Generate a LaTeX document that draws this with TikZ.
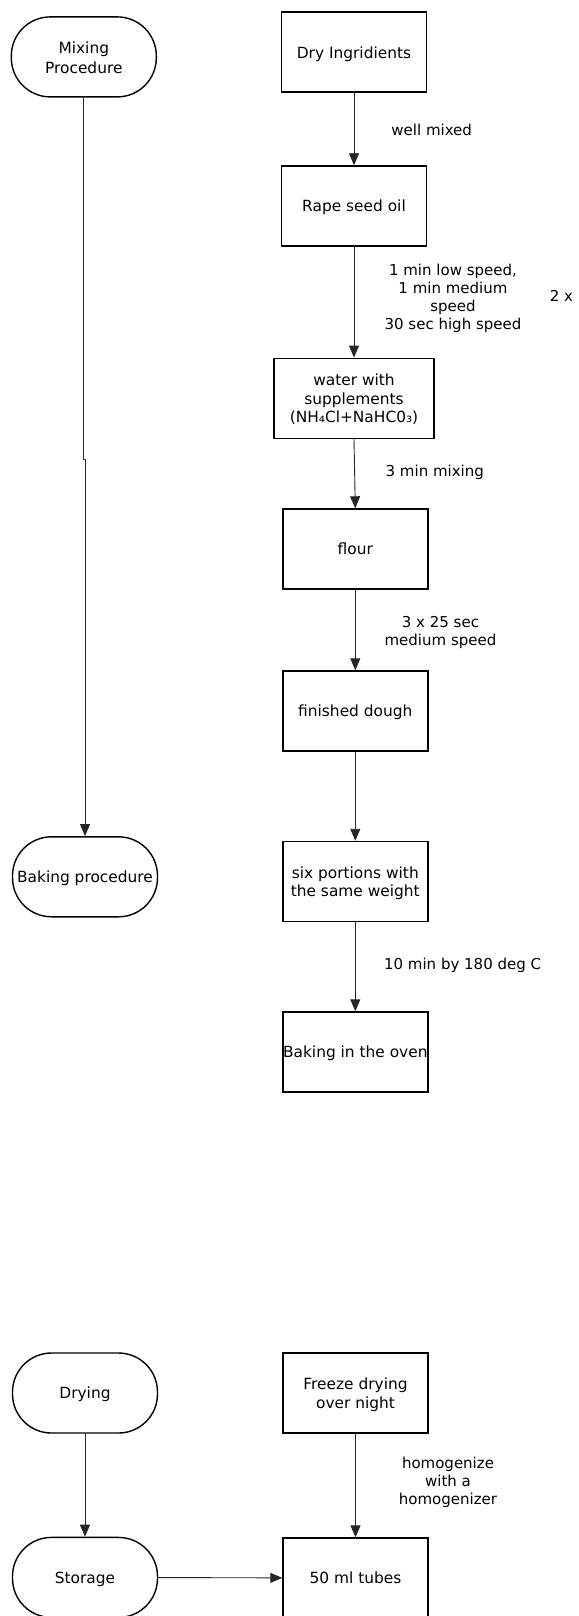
\documentclass[tikz,border=0pt]{standalone}
\usepackage{fontspec}
\setmainfont{DejaVu Sans}
\usetikzlibrary{arrows.meta}
% centred box text, set a little below the geometric centre without changing the node size
\newcommand\boxtext[1]{\raisebox{-2.2pt}[\height][\depth]{\begin{tabular}{@{}c@{}}#1\end{tabular}}}
\begin{document}
\begin{tikzpicture}[x=1pt,y=-1pt,
  box/.style={draw=black, line width=1.4pt, minimum width=145pt, minimum height=80pt,
    inner sep=0pt, align=center, font=\fontsize{15.4}{18.5}\selectfont},
  term/.style={box, rounded corners=39pt},
  lbl/.style={align=center, font=\fontsize{15}{18}\selectfont, inner sep=0pt},
  flow/.style={draw=black!85, line width=0.9pt, -{Triangle[width=10pt,length=12pt]}}]
\useasboundingbox (0,0) rectangle (578,1616);

% left column: procedure stages
\node[term, font=\fontsize{15.4}{20}\selectfont] (mix) at (83.8,56.9) {\boxtext{Mixing\\Procedure}};
\node[term] (bake) at (85,876.8) {\boxtext{Baking procedure}};
\node[term] (drying) at (85,1393) {\boxtext{Drying}};
\node[term] (storage) at (85,1577.4) {\boxtext{Storage}};

% right column: process steps
\node[box] (dry) at (354,52.2) {\boxtext{Dry Ingridients}};
\node[box] (oil) at (354,206) {\boxtext{Rape seed oil}};
\node[box, minimum width=160pt] (water) at (354,398.3) {\boxtext{water with\\supplements\\(NH₄Cl+NaHC0₃)}};
\node[box] (flour) at (355.3,549) {\boxtext{flour}};
\node[box] (dough) at (355.3,711) {\boxtext{finished dough}};
\node[box] (portions) at (355.3,881.5) {\boxtext{six portions with\\the same weight}};
\node[box] (oven) at (355.3,1052) {\boxtext{Baking in the oven}};
\node[box] (freeze) at (355.5,1393) {\boxtext{Freeze drying\\over night}};
\node[box] (tubes) at (355.5,1578) {\boxtext{50 ml tubes}};

% step annotations
\node[lbl] (l1) at (431.7,129.8) {well mixed};
\node[lbl] (l2) at (453,298.5) {1 min low speed,\\1 min medium\\speed\\30 sec high speed};
\node[lbl] (l2x) at (561.5,295.7) {2 x};
\node[lbl] (l3) at (434.8,471.9) {3 min mixing};
\node[lbl] (l4) at (440.5,632) {3 x 25 sec\\medium speed};
\node[lbl] (l5) at (462.6,965.4) {10 min by 180 deg C};
\node[lbl] (l6) at (448,1482.6) {homogenize\\with a\\homogenizer};

% connectors
\coordinate (jog) at (84.4,459);
\draw[flow] (mix.south) |- (jog) -| (bake.north);
\draw[flow] (drying) -- (storage);
\draw[flow] (storage) -- (tubes);

\draw[flow] (dry) -- (oil);
\draw[flow] (oil) -- (water);
\draw[flow] (water.south) -- (flour.north);
\draw[flow] (flour) -- (dough);
\draw[flow] (dough) -- (portions);
\draw[flow] (portions) -- (oven);
\draw[flow] (freeze) -- (tubes);
\end{tikzpicture}
\end{document}
